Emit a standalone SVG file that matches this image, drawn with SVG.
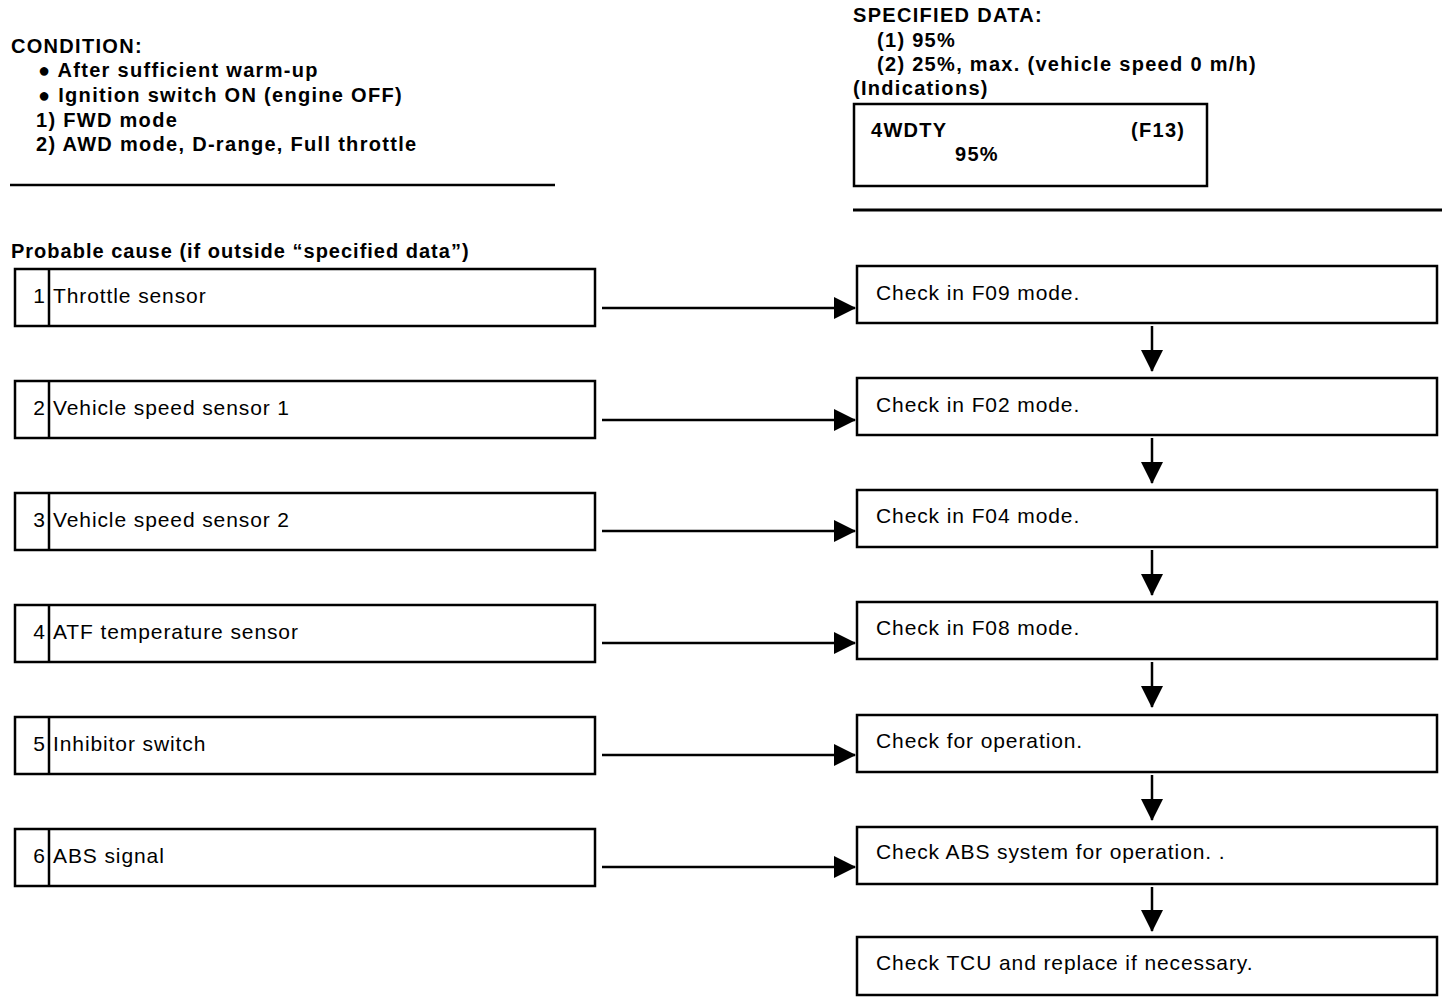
<svg xmlns="http://www.w3.org/2000/svg" width="1456" height="1002" viewBox="0 0 1456 1002">
<style>
.h{font-family:"Liberation Sans",Arial,sans-serif;font-weight:bold;font-size:20px;letter-spacing:1.3px;fill:#000}
.p{letter-spacing:1px}
.t{font-family:"Liberation Sans",Arial,sans-serif;font-size:21px;letter-spacing:0.9px;fill:#000}
.n{letter-spacing:0}
.box{fill:#fff;stroke:#000;stroke-width:2.5}
.ln{stroke:#000;stroke-width:2.5;fill:none}
</style>
<defs>
<marker id="ah" markerWidth="22" markerHeight="22" refX="21" refY="11" orient="auto" markerUnits="userSpaceOnUse">
<path d="M0,0 L22,11 L0,22 Z" fill="#000"/>
</marker>
</defs>
<rect width="1456" height="1002" fill="#fff"/>
<g id="condition">
<text class="h" x="11" y="53">CONDITION:</text>
<text class="h" x="38" y="77">● After sufficient warm-up</text>
<text class="h" x="38" y="102">● Ignition switch ON (engine OFF)</text>
<text class="h" x="36" y="127">1) FWD mode</text>
<text class="h" x="36" y="151">2) AWD mode, D-range, Full throttle</text>
<line class="ln" x1="10" y1="185" x2="555" y2="185"/>
</g>
<g id="specified">
<text class="h" x="853" y="22">SPECIFIED DATA:</text>
<text class="h" x="877" y="47">(1) 95%</text>
<text class="h" x="877" y="71">(2) 25%, max. (vehicle speed 0 m/h)</text>
<text class="h" x="853" y="95">(Indications)</text>
<rect class="box" x="854" y="104" width="353" height="82"/>
<text class="h" x="871" y="137">4WDTY</text>
<text class="h" x="1131" y="137">(F13)</text>
<text class="h" x="955" y="161">95%</text>
<line x1="853" y1="210" x2="1442" y2="210" stroke="#000" stroke-width="3"/>
</g>
<text class="h p" x="11" y="258">Probable cause (if outside “specified data”)</text>
<g id="cause1"><rect class="box" x="15" y="269" width="580" height="57"/><line class="ln" x1="49" y1="269" x2="49" y2="326" stroke-width="1.5"/><text class="t n" x="45" y="303" text-anchor="end">1</text><text class="t" x="53" y="303">Throttle sensor</text></g>
<g id="cause2"><rect class="box" x="15" y="381" width="580" height="57"/><line class="ln" x1="49" y1="381" x2="49" y2="438" stroke-width="1.5"/><text class="t n" x="45" y="415" text-anchor="end">2</text><text class="t" x="53" y="415">Vehicle speed sensor 1</text></g>
<g id="cause3"><rect class="box" x="15" y="493" width="580" height="57"/><line class="ln" x1="49" y1="493" x2="49" y2="550" stroke-width="1.5"/><text class="t n" x="45" y="527" text-anchor="end">3</text><text class="t" x="53" y="527">Vehicle speed sensor 2</text></g>
<g id="cause4"><rect class="box" x="15" y="605" width="580" height="57"/><line class="ln" x1="49" y1="605" x2="49" y2="662" stroke-width="1.5"/><text class="t n" x="45" y="639" text-anchor="end">4</text><text class="t" x="53" y="639">ATF temperature sensor</text></g>
<g id="cause5"><rect class="box" x="15" y="717" width="580" height="57"/><line class="ln" x1="49" y1="717" x2="49" y2="774" stroke-width="1.5"/><text class="t n" x="45" y="751" text-anchor="end">5</text><text class="t" x="53" y="751">Inhibitor switch</text></g>
<g id="cause6"><rect class="box" x="15" y="829" width="580" height="57"/><line class="ln" x1="49" y1="829" x2="49" y2="886" stroke-width="1.5"/><text class="t n" x="45" y="863" text-anchor="end">6</text><text class="t" x="53" y="863">ABS signal</text></g>
<g id="check1"><rect class="box" x="857" y="266" width="580" height="57"/><text class="t" x="876" y="300">Check in F09 mode.</text></g>
<g id="check2"><rect class="box" x="857" y="378" width="580" height="57"/><text class="t" x="876" y="412">Check in F02 mode.</text></g>
<g id="check3"><rect class="box" x="857" y="490" width="580" height="57"/><text class="t" x="876" y="523">Check in F04 mode.</text></g>
<g id="check4"><rect class="box" x="857" y="602" width="580" height="57"/><text class="t" x="876" y="635">Check in F08 mode.</text></g>
<g id="check5"><rect class="box" x="857" y="715" width="580" height="57"/><text class="t" x="876" y="748">Check for operation.</text></g>
<g id="check6"><rect class="box" x="857" y="827" width="580" height="57"/><text class="t" x="876" y="859">Check ABS system for operation. .</text></g>
<g id="check7"><rect class="box" x="857" y="937" width="580" height="58"/><text class="t" x="876" y="970">Check TCU and replace if necessary.</text></g>
<g id="connectors">
<line class="ln" x1="602" y1="308" x2="855" y2="308" marker-end="url(#ah)"/>
<line class="ln" x1="602" y1="420" x2="855" y2="420" marker-end="url(#ah)"/>
<line class="ln" x1="602" y1="531" x2="855" y2="531" marker-end="url(#ah)"/>
<line class="ln" x1="602" y1="643" x2="855" y2="643" marker-end="url(#ah)"/>
<line class="ln" x1="602" y1="755" x2="855" y2="755" marker-end="url(#ah)"/>
<line class="ln" x1="602" y1="867" x2="855" y2="867" marker-end="url(#ah)"/>
<line class="ln" x1="1152" y1="326" x2="1152" y2="371" marker-end="url(#ah)"/>
<line class="ln" x1="1152" y1="438" x2="1152" y2="483" marker-end="url(#ah)"/>
<line class="ln" x1="1152" y1="550" x2="1152" y2="595" marker-end="url(#ah)"/>
<line class="ln" x1="1152" y1="662" x2="1152" y2="707" marker-end="url(#ah)"/>
<line class="ln" x1="1152" y1="775" x2="1152" y2="820" marker-end="url(#ah)"/>
<line class="ln" x1="1152" y1="887" x2="1152" y2="931" marker-end="url(#ah)"/>
</g>
</svg>
